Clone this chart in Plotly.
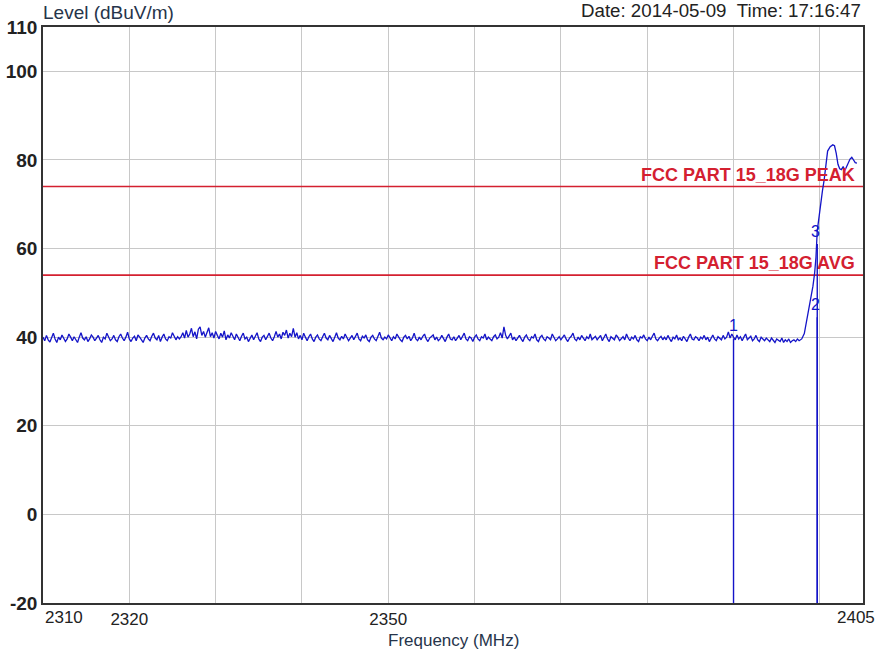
import plotly.graph_objects as go

# ---------------- data ----------------
NOISE_START = 2310.0
NOISE_STEP = 0.2
noise_levels = [
    40.0, 39.2, 40.4, 39.4, 38.9, 40.1, 40.9, 39.6, 38.8, 40.0, 39.4, 40.5, 39.8, 39.0, 39.6, 40.7, 40.0, 39.2, 40.1, 39.4,
    38.8, 40.0, 41.0, 39.8, 39.4, 40.1, 39.0, 39.6, 40.5, 40.0, 39.2, 39.8, 40.4, 39.4, 38.8, 40.0, 39.6, 40.9, 40.1, 39.2,
    39.6, 40.4, 39.4, 39.0, 40.1, 40.7, 39.8, 39.2, 40.0, 41.1, 39.6, 39.0, 39.8, 40.2, 39.2, 40.5, 40.0, 39.4, 38.8, 39.8,
    40.4, 39.6, 39.2, 40.2, 40.9, 39.8, 39.4, 40.4, 39.0, 40.0, 40.7, 39.6, 39.2, 40.1, 39.8, 41.0, 40.0, 39.4, 40.1, 39.6,
    40.1, 41.0, 39.8, 41.5, 40.0, 40.7, 42.0, 40.1, 41.2, 39.6, 41.8, 42.3, 40.4, 41.3, 40.0, 40.9, 42.1, 40.1, 41.0, 39.8,
    41.3, 40.4, 39.6, 40.9, 40.0, 41.4, 39.4, 40.5, 39.8, 41.0, 40.2, 39.4, 40.7, 40.0, 39.2, 40.2, 40.9, 39.6, 40.0, 39.0,
    39.8, 40.5, 39.4, 40.2, 41.0, 39.6, 39.0, 40.0, 40.4, 39.4, 40.0, 40.9, 39.8, 39.2, 40.1, 41.3, 40.0, 40.7, 39.6, 41.1,
    40.4, 41.6, 39.8, 40.9, 40.1, 42.0, 40.0, 41.0, 39.6, 40.4, 39.4, 40.9, 40.0, 39.2, 40.1, 40.7, 39.6, 39.0, 40.0, 40.5,
    39.6, 39.2, 40.1, 40.9, 39.8, 39.4, 40.4, 39.6, 39.0, 40.0, 41.0, 39.8, 39.4, 40.2, 39.6, 40.7, 40.0, 39.2, 39.8, 40.4,
    39.4, 40.0, 40.9, 39.6, 39.2, 40.2, 39.8, 40.5, 39.4, 39.0, 40.0, 40.4, 39.6, 39.2, 40.1, 41.1, 39.8, 39.4, 40.0, 39.6,
    40.5, 39.8, 39.2, 40.1, 39.6, 40.7, 40.0, 39.4, 39.0, 40.0, 40.4, 39.6, 40.2, 39.2, 39.8, 40.9, 39.6, 39.2, 40.0, 39.4,
    40.2, 40.7, 39.6, 39.0, 39.8, 40.2, 40.5, 39.4, 40.0, 39.2, 39.6, 40.4, 39.8, 39.0, 40.0, 40.7, 39.6, 39.4, 40.1, 39.2,
    39.8, 40.4, 39.4, 40.0, 40.9, 39.6, 39.2, 40.1, 39.8, 39.0, 40.0, 40.5, 39.6, 39.2, 40.1, 39.8, 40.7, 39.4, 40.0, 39.6,
    39.2, 40.1, 40.5, 39.6, 40.0, 41.0, 39.8, 42.3, 40.4, 39.6, 40.2, 40.9, 39.4, 40.0, 39.2, 39.8, 40.4, 39.6, 39.0, 40.0,
    40.5, 39.6, 39.2, 40.1, 39.8, 40.7, 39.4, 39.0, 40.0, 40.4, 39.6, 39.2, 40.1, 39.8, 39.4, 40.7, 40.0, 39.2, 39.6, 40.1,
    39.4, 40.0, 40.5, 39.6, 39.0, 39.8, 40.2, 40.9, 39.6, 39.2, 40.0, 39.4, 40.4, 39.8, 39.2, 40.1, 39.6, 40.7, 39.4, 39.8,
    40.2, 39.4, 40.0, 40.4, 39.2, 39.8, 40.7, 39.6, 39.0, 40.1, 39.8, 39.4, 40.5, 40.0, 39.2, 39.6, 40.1, 39.4, 40.7, 39.8,
    39.2, 40.0, 39.6, 40.4, 39.4, 39.0, 40.1, 39.8, 40.5, 39.6, 39.2, 40.0, 39.4, 40.2, 40.9, 39.6, 39.2, 39.8, 40.2, 39.4,
    40.0, 39.4, 40.4, 39.6, 39.0, 40.0, 39.6, 40.5, 39.4, 39.8, 39.2, 40.2, 39.6, 39.0, 40.0, 40.7, 39.6, 39.4, 40.1, 39.8,
    39.2, 40.0, 39.6, 40.4, 39.4, 40.0, 39.0, 39.8, 40.5, 39.6, 39.2, 40.1, 39.8, 39.4, 40.4, 39.6, 40.0, 41.2, 39.8, 40.7,
    40.0, 39.4, 40.5, 39.6, 40.1, 39.2, 40.0, 40.7, 39.4, 39.8, 40.2, 39.2, 39.6, 40.4, 39.4, 39.0, 40.0, 39.6, 39.2, 39.8,
    39.4, 39.0, 39.8, 39.2, 38.8, 39.6, 39.2, 39.0, 39.8, 38.8, 39.4, 39.0, 39.6, 38.8, 39.2, 39.4, 39.0, 39.6, 39.2, 39.4,
]

# band-edge rise and carrier (MHz, dBuV/m)
edge_freqs = [2397.9, 2398.2, 2398.4, 2398.6, 2398.8, 2399.0, 2399.2, 2399.4, 2399.55, 2399.7,
              2399.9, 2400.1, 2400.3, 2400.5, 2400.7, 2400.9, 2401.2, 2401.5, 2401.7, 2401.9,
              2402.1, 2402.3, 2402.5, 2402.7, 2402.9, 2403.1, 2403.3, 2403.5, 2403.7, 2403.9,
              2404.1, 2404.3]
edge_levels = [39.6, 40.8, 43.0, 45.0, 47.6, 49.0, 51.5, 54.5, 58.0, 64.0,
               67.5, 71.0, 73.0, 75.5, 79.0, 82.0, 83.0, 83.4, 83.2, 81.5,
               79.0, 78.0, 77.8, 78.5, 77.6, 78.6, 79.4, 80.2, 80.6, 80.0,
               79.4, 79.3]

# markers
marker_labels = ["1", "2", "3"]
marker_freqs = [2390.0, 2399.7, 2399.7]
marker_levels = [39.7, 44.5, 61.0]

# limit lines
limit_names = ["FCC PART 15_18G PEAK", "FCC PART 15_18G AVG"]
limit_levels = [74.0, 54.0]

x_min, x_max = 2310, 2405
y_min, y_max = -20, 110
x_grid = [2310, 2320, 2330, 2340, 2350, 2360, 2370, 2380, 2390, 2400, 2405]
x_grid_text = ["", "2320", "", "", "2350", "", "", "", "", "", ""]
y_ticks = [-20, 0, 20, 40, 60, 80, 100, 110]
y_tick_text = ["-20", "0", "20", "40", "60", "80", "100", "110"]

# ---------------- figure ----------------
FONT = "Liberation Sans, Arial, sans-serif"
BLUE = "#1414c8"
RED = "#d42030"

freqs = [NOISE_START + i * NOISE_STEP for i in range(len(noise_levels))] + edge_freqs
levels = noise_levels + edge_levels

fig = go.Figure()

for lv in limit_levels:
    fig.add_trace(go.Scatter(x=[x_min, x_max], y=[lv, lv], mode="lines",
                             line=dict(color=RED, width=1.6), hoverinfo="skip", showlegend=False))

for f, lv in zip(marker_freqs, marker_levels):
    fig.add_trace(go.Scatter(x=[f, f], y=[y_min, lv], mode="lines",
                             line=dict(color=BLUE, width=1.4), hoverinfo="skip", showlegend=False))

fig.add_trace(go.Scatter(x=freqs, y=levels, mode="lines",
                         line=dict(color=BLUE, width=1.3), showlegend=False))

annotations = []
for name, lv in zip(limit_names, limit_levels):
    annotations.append(dict(x=x_max, y=lv, xref="x", yref="y", text=name, showarrow=False,
                            xanchor="right", yanchor="bottom", xshift=-6, yshift=0,
                            font=dict(family=FONT, size=18, color=RED, weight="bold")))
for lab, f, lv in zip(marker_labels, marker_freqs, marker_levels):
    annotations.append(dict(x=f, y=lv, xref="x", yref="y", text=lab, showarrow=False,
                            xanchor="center", yanchor="bottom", xshift=(0 if lab == "1" else -2),
                            yshift=2, font=dict(family=FONT, size=16, color=BLUE)))
annotations.append(dict(x=x_min, y=0, xref="x", yref="paper", text="2310", showarrow=False,
                        xanchor="left", yanchor="top", yshift=-3,
                        font=dict(family=FONT, size=17, color="#222222")))
annotations.append(dict(x=x_max, y=0, xref="x", yref="paper", text="2405", showarrow=False,
                        xanchor="right", yanchor="top", xshift=14, yshift=-3,
                        font=dict(family=FONT, size=17, color="#222222")))
annotations.append(dict(x=0, y=1, xref="paper", yref="paper", text="Level (dBuV/m)", showarrow=False,
                        xanchor="left", yanchor="bottom", xshift=-2, yshift=2,
                        font=dict(family=FONT, size=19, color="#26344a")))
annotations.append(dict(x=1, y=1, xref="paper", yref="paper",
                        text="Date: 2014-05-09&nbsp;&nbsp;Time: 17:16:47", showarrow=False,
                        xanchor="right", yanchor="bottom", xshift=0, yshift=4,
                        font=dict(family=FONT, size=18.7, color="#222222")))
annotations.append(dict(x=0.5, y=0, xref="paper", yref="paper", text="Frequency (MHz)", showarrow=False,
                        xanchor="center", yanchor="top", yshift=-26,
                        font=dict(family=FONT, size=17, color="#26344a")))

fig.update_layout(
    width=880, height=654,
    margin=dict(l=43, r=17, t=27, b=51),
    paper_bgcolor="white", plot_bgcolor="white",
    font=dict(family=FONT, color="#222222"),
    annotations=annotations,
    showlegend=False,
)
fig.update_xaxes(range=[x_min, x_max], tickvals=x_grid, ticktext=x_grid_text, automargin=False,
                 showgrid=True, gridcolor="#c8c8c8", gridwidth=1, zeroline=False,
                 showline=True, mirror=True, linecolor="#333333", linewidth=1.6,
                 ticks="", tickfont=dict(family=FONT, size=17, color="#222222"))
fig.update_yaxes(range=[y_min, y_max], tickvals=y_ticks, ticktext=y_tick_text, automargin=False,
                 showgrid=True, gridcolor="#c8c8c8", gridwidth=1, zeroline=False,
                 showline=True, mirror=True, linecolor="#333333", linewidth=1.6,
                 ticks="", tickfont=dict(family=FONT, size=19, color="#222222", weight="bold"))

fig.write_html("out.html", config={"displayModeBar": False},
               post_script="document.body.style.margin='0';document.body.style.overflow='hidden';")
